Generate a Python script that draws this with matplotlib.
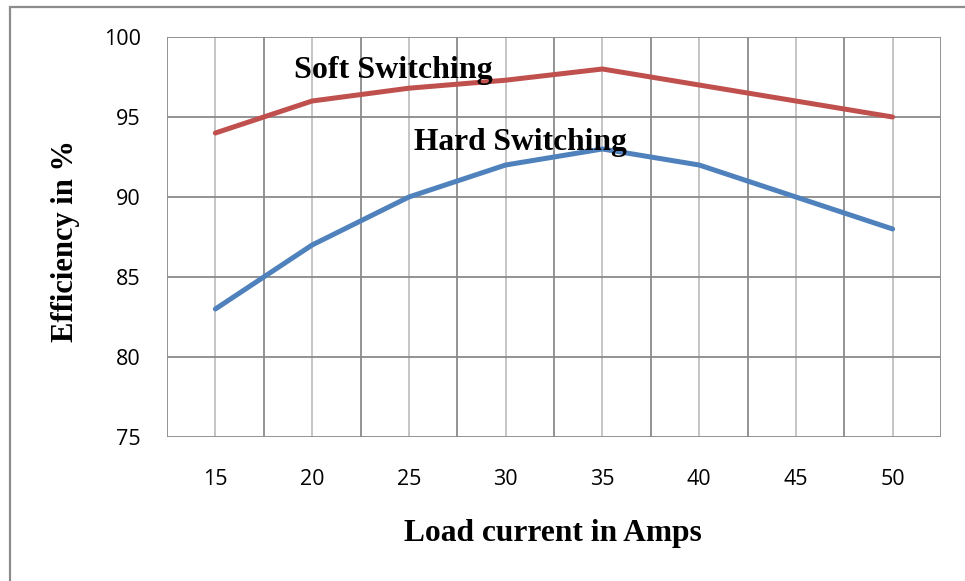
import matplotlib
matplotlib.use("Agg")
import matplotlib.pyplot as plt
from matplotlib.patches import Rectangle

load_current = [15, 20, 25, 30, 35, 40, 45, 50]
soft_switching = [94, 96, 96.8, 97.3, 98, 97, 96, 95]
hard_switching = [83, 87, 90, 92, 93, 92, 90, 88]
y_ticks = [75, 80, 85, 90, 95, 100]

W, H = 965, 581
fig = plt.figure(figsize=(W / 100, H / 100), dpi=100)
fig.patch.set_facecolor("white")

# outer chart frame (open to the right and bottom edges)
fig.patches.append(Rectangle((10 / W, -0.1), 1.2, 1.1 - 7 / H, transform=fig.transFigure,
                             fill=False, edgecolor="#8c8c8c", linewidth=1.6, zorder=0))

ax = fig.add_axes([167 / W, 1 - 437 / H, 774 / W, 400 / H])
idx = list(range(len(load_current)))

# gridlines: light at category centres, darker at category boundaries
for i in idx:
    ax.axvline(i, color="#c0c0c0", linewidth=1.3, zorder=1)
for i in range(len(load_current) + 1):
    ax.axvline(i - 0.5, color="#8a8a8a", linewidth=1.3, zorder=1)
for v in y_ticks:
    ax.axhline(v, color="#8a8a8a", linewidth=1.3, zorder=1)

ax.plot(idx, soft_switching, color="#C0504D", linewidth=3.6, zorder=3, solid_capstyle="round")
ax.plot(idx, hard_switching, color="#4F81BD", linewidth=3.6, zorder=3, solid_capstyle="round")

ax.set_xlim(-0.5, len(load_current) - 0.5)
ax.set_ylim(75, 100)
ax.set_xticks(idx)
ax.set_xticklabels([str(v) for v in load_current])
ax.set_yticks(y_ticks)
ax.set_yticklabels([str(v) for v in y_ticks])
ax.tick_params(axis="both", length=0, labelsize=15.5, colors="black")
ax.tick_params(axis="x", pad=23)
ax.tick_params(axis="y", pad=19)
for lab in ax.get_xticklabels() + ax.get_yticklabels():
    lab.set_fontfamily("Open Sans")
for s in ax.spines.values():
    s.set_visible(False)

serif = {"family": "Liberation Serif", "weight": "bold"}
ax.text(1.84, 97.44, "Soft Switching", fontsize=23, ha="center", va="baseline", zorder=4, **serif)
ax.text(3.15, 92.94, "Hard Switching", fontsize=22.7, ha="center", va="baseline", zorder=4, **serif)

fig.text(553 / W, 1 - 534 / H, "Load current in Amps", fontsize=22.7, ha="center", va="center", **serif)
fig.text(66 / W, 1 - 241 / H, "Efficiency in %", fontsize=22, ha="center", va="center",
         rotation=90, **serif)

fig.savefig("out.png", dpi=100, facecolor="white")
